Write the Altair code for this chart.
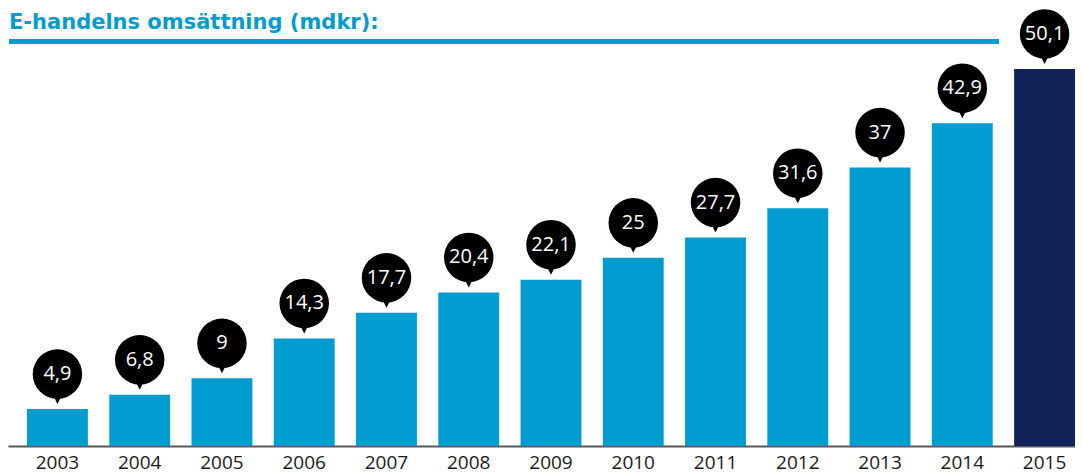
import altair as alt
import pandas as pd

years = ["2003", "2004", "2005", "2006", "2007", "2008", "2009", "2010",
         "2011", "2012", "2013", "2014", "2015"]
values = [4.9, 6.8, 9, 14.3, 17.7, 20.4, 22.1, 25, 27.7, 31.6, 37, 42.9, 50.1]
labels = ["4,9", "6,8", "9", "14,3", "17,7", "20,4", "22,1", "25", "27,7",
          "31,6", "37", "42,9", "50,1"]
highlight = ["no"] * 12 + ["yes"]
title_text = "E-handelns omsättning (mdkr):"

df = pd.DataFrame({"year": years, "value": values, "label": labels, "hl": highlight})
tdf = pd.DataFrame({"t": [title_text]})

FONT = "Open Sans"
BLUE = "#009CCF"
NAVY = "#12235A"

xenc = alt.X("year:N", sort=years,
             scale=alt.Scale(paddingInner=0.26, paddingOuter=0.1155, align=1, round=False),
             axis=alt.Axis(title=None, ticks=False, labelAngle=0, labelFontSize=19,
                           labelFont=FONT, labelColor="#1a1a1a", labelPadding=7,
                           domainColor="#3c3c3c", domainOpacity=0.85, domainWidth=2,
                           grid=False))
yenc = alt.Y("value:Q", scale=alt.Scale(domain=[0, 58.2], nice=False), axis=None)

base = alt.Chart(df).encode(x=xenc, y=yenc)

bars = base.mark_bar().encode(
    color=alt.Color("hl:N", scale=alt.Scale(domain=["no", "yes"], range=[BLUE, NAVY]),
                    legend=None)
)

pointer = base.mark_point(shape="M-1,-1L1,-1L0,1Z", filled=True, size=121,
                          color="black", opacity=1, strokeWidth=0, yOffset=-10.5)

bubble = base.mark_point(shape="circle", filled=True, size=2450, color="black",
                         opacity=1, strokeWidth=0, yOffset=-35)

text = base.mark_text(color="white", fontSize=20, font=FONT, baseline="middle",
                      align="center", yOffset=-35).encode(text="label:N")

title = alt.Chart(tdf).mark_text(font="DejaVu Sans", fontSize=21, fontWeight="bold",
                                 color=BLUE, align="left", baseline="alphabetic").encode(
    x=alt.value(1), y=alt.value(21), text="t:N")

rule = alt.Chart(tdf).mark_rule(color=BLUE, strokeWidth=5).encode(
    x=alt.value(1), x2=alt.value(991), y=alt.value(33.5))

chart = alt.layer(bars, pointer, bubble, text, title, rule).properties(
    width=1067, height=438, autosize="none",
    padding={"left": 0, "top": 0, "right": 0, "bottom": 27},
).configure_view(stroke=None)

chart.save("out.html", embed_options={"renderer": "svg", "actions": False})
